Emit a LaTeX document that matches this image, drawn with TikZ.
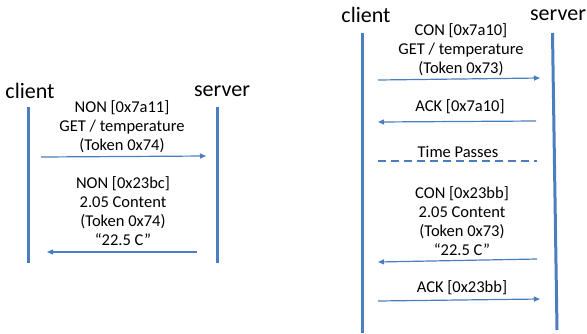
\documentclass[tikz,border=0pt]{standalone}
\usepackage{fontspec}
\setmainfont{Carlito}
\usetikzlibrary{arrows.meta}
\definecolor{lineblue}{RGB}{74,126,190}
\begin{document}
\begin{tikzpicture}[x=1pt,y=-1pt,
  lifeline/.style={draw=lineblue,line width=3pt},
  msg/.style={draw=lineblue,line width=1.2pt,-{Triangle[length=6pt,width=5pt]}},
  party/.style={font=\fontsize{22}{24}\selectfont,inner sep=0pt},
  msgtext/.style={font=\fontsize{16.5}{19}\selectfont,align=center,inner sep=0pt},
  timeline/.style={draw=lineblue,line width=2.4pt,dash pattern=on 8pt off 5pt}]
\useasboundingbox (0,0) rectangle (587,333);
% ---------- left diagram ----------
\node[party] (lc) at (30,91) {client};
\node[party] (ls) at (222,91) {server};
\coordinate (lct) at (28,107);
\coordinate (lcb) at (28,263);
\coordinate (lst) at (217,107);
\coordinate (lsb) at (217,263);
\draw[lifeline] (lct) -- (lcb);
\draw[lifeline] (lst) -- (lsb);
\node[msgtext] (m1) at (122,127) {NON [0x7a11]\\GET / temperature\\(Token 0x74)};
\coordinate (m1a) at (41,157);
\coordinate (m1b) at (206,156);
\draw[msg] (m1a) -- (m1b);
\node[msgtext] (m2) at (123,211.5) {NON [0x23bc]\\2.05 Content\\(Token 0x74)\\“22.5 C”};
\coordinate (m2a) at (197,252);
\coordinate (m2b) at (47,252);
\draw[msg] (m2a) -- (m2b);
% ---------- right diagram ----------
\node[party] (rc) at (366,15) {client};
\node[party] (rs) at (558,15) {server};
\coordinate (rct) at (362,33);
\coordinate (rcb) at (362,333);
\coordinate (rst) at (552.5,33);
\coordinate (rsb) at (557,330);
\draw[lifeline] (rct) -- (rcb);
\draw[lifeline] (rst) -- (rsb);
\node[msgtext] (r1) at (461,50) {CON [0x7a10]\\GET / temperature\\(Token 0x73)};
\coordinate (r1a) at (378,80);
\coordinate (r1b) at (540,78);
\draw[msg] (r1a) -- (r1b);
\node[msgtext] (r2) at (460,107) {ACK [0x7a10]};
\coordinate (r2a) at (536,121);
\coordinate (r2b) at (378,122);
\draw[msg] (r2a) -- (r2b);
\node[msgtext] (tp) at (458,152) {Time Passes};
\coordinate (tpa) at (378,161);
\coordinate (tpb) at (537,161);
\draw[timeline] (tpa) -- (tpb);
\node[msgtext] (r3) at (462,221.5) {CON [0x23bb]\\2.05 Content\\(Token 0x73)\\“22.5 C”};
\coordinate (r3a) at (537,259);
\coordinate (r3b) at (378,262);
\draw[msg] (r3a) -- (r3b);
\node[msgtext] (r4) at (462,288) {ACK [0x23bb]};
\coordinate (r4a) at (378,301);
\coordinate (r4b) at (540,299);
\draw[msg] (r4a) -- (r4b);
\end{tikzpicture}
\end{document}
